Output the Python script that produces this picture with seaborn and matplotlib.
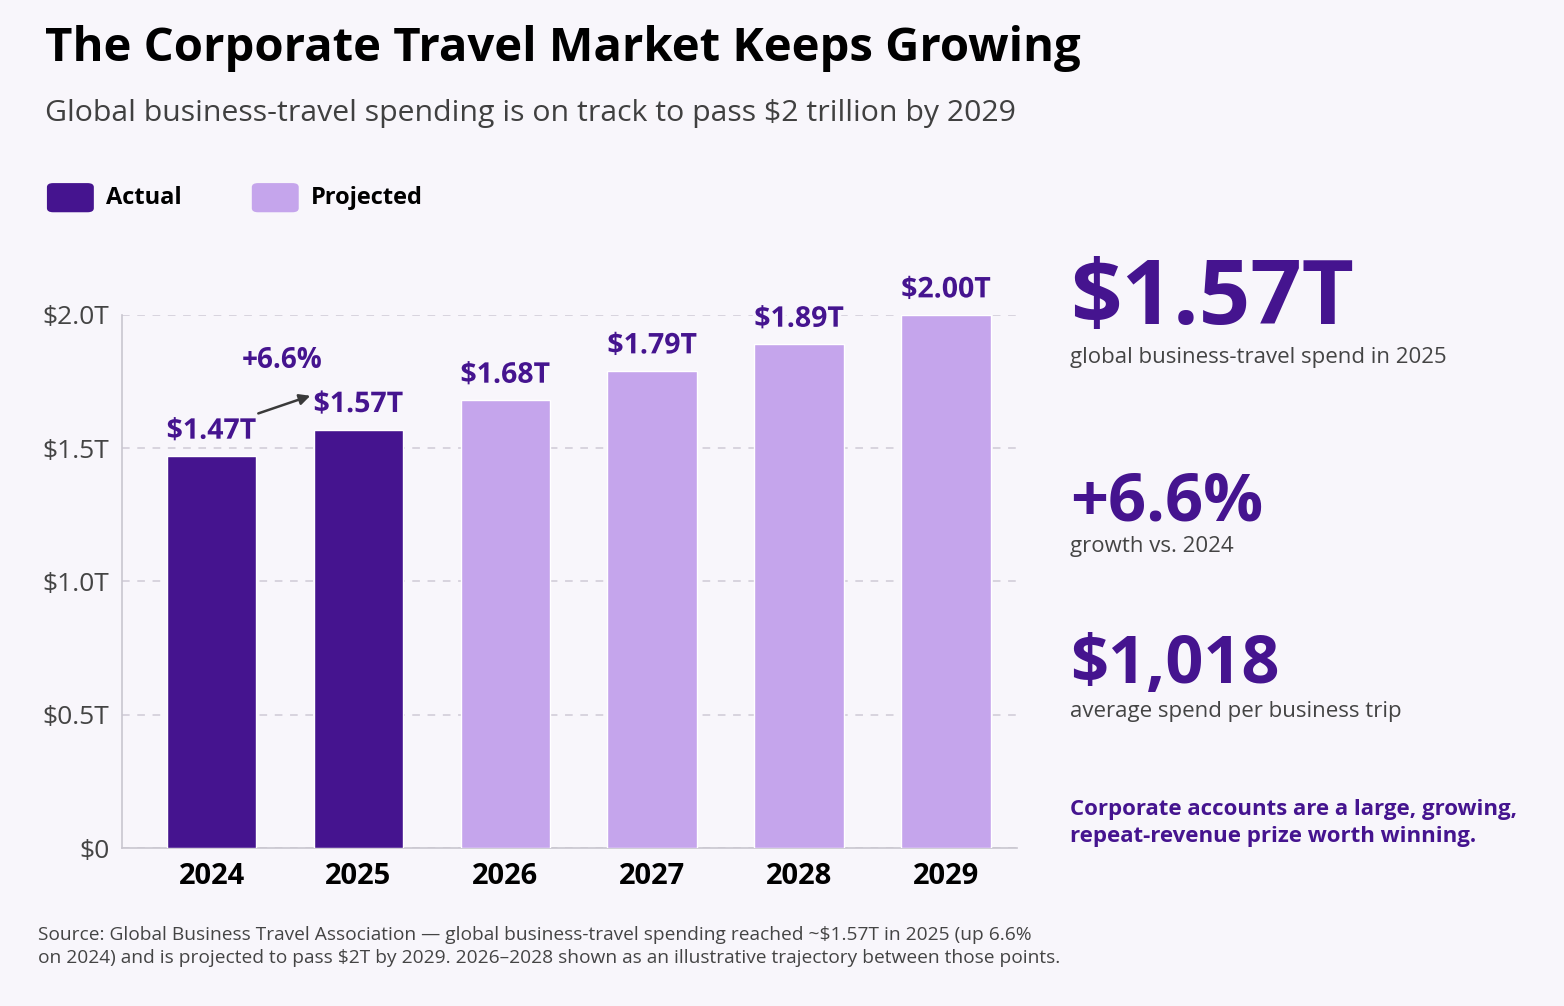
import seaborn as sns
import matplotlib.pyplot as plt
import matplotlib.patheffects as pe
from matplotlib import font_manager
from matplotlib.patches import FancyBboxPatch
import pandas as pd

# data
years = ["2024", "2025", "2026", "2027", "2028", "2029"]
spend_t = [1.47, 1.57, 1.68, 1.79, 1.89, 2.00]
status = ["Actual", "Actual", "Projected", "Projected", "Projected", "Projected"]
value_labels = ["$1.47T", "$1.57T", "$1.68T", "$1.79T", "$1.89T", "$2.00T"]
y_ticks = [0, 0.5, 1.0, 1.5, 2.0]
y_tick_labels = ["$0", "$0.5T", "$1.0T", "$1.5T", "$2.0T"]
kpi_values = ["$1.57T", "+6.6%", "$1,018"]
kpi_captions = ["global business-travel spend in 2025", "growth vs. 2024",
                "average spend per business trip"]

BG = "#f8f6fb"
DARK = "#45148f"
LIGHT = "#c5a5ec"
palette = {"Actual": DARK, "Projected": LIGHT}

df = pd.DataFrame({"year": years, "spend": spend_t, "status": status})

# pick a family that actually has a bold face installed
bold_families = {f.name for f in font_manager.fontManager.ttflist
                 if (f.weight in ("bold", 700) or str(f.weight) in ("700", "bold"))}
family = "DejaVu Sans"
for cand in ["Open Sans", "Noto Sans", "Lato", "Roboto", "Inter", "Liberation Sans"]:
    if cand in bold_families:
        family = cand
        break

sns.set_theme(style="white")
plt.rcParams["font.family"] = [family, "DejaVu Sans"]

fig = plt.figure(figsize=(15.64, 10.06), dpi=100, facecolor=BG)
ax = fig.add_axes([0.078, 0.157, 0.572, 0.530])
ax.set_facecolor(BG)

sns.barplot(data=df, x="year", y="spend", hue="status", palette=palette,
            dodge=False, width=0.61, saturation=1, legend=False, ax=ax, zorder=3)

ax.set_ylim(0, 2.0)
ax.set_xlim(-0.61, 5.48)
ax.set_yticks(y_ticks)
ax.set_yticklabels(y_tick_labels, fontsize=19, color="#444444")
ax.tick_params(axis="x", labelsize=21, pad=10, length=0, colors="black")
ax.tick_params(axis="y", pad=9, length=0)
for lab in ax.get_xticklabels():
    lab.set_fontweight("bold")
ax.set_xlabel("")
ax.set_ylabel("")
ax.yaxis.grid(True, linestyle=(0, (5, 5)), color="#cfcad6", linewidth=1.1, zorder=0)
for s in ["top", "right"]:
    ax.spines[s].set_visible(False)
ax.spines["left"].set_color("#c9c6cf")
ax.spines["bottom"].set_color("#c9c6cf")
ax.spines["left"].set_linewidth(1.2)
ax.spines["bottom"].set_linewidth(1.2)

halo = [pe.withStroke(linewidth=5, foreground=BG)]

# value labels above bars
for i, (v, txt) in enumerate(zip(spend_t, value_labels)):
    ax.annotate(txt, (i, v), xytext=(0, 18), textcoords="offset points",
                ha="center", va="center", fontsize=20.5, fontweight="bold",
                color=DARK, annotation_clip=False, path_effects=halo, zorder=5)

# growth arrow 2024 -> 2025
ax.annotate("", xy=(0.69, 1.70), xytext=(0.30, 1.627),
            arrowprops=dict(arrowstyle="-|>", color="#3a3a3a", lw=1.8,
                            mutation_scale=16), annotation_clip=False, zorder=6)
ax.text(0.48, 1.83, "+6.6%", ha="center", va="center", fontsize=20,
        fontweight="bold", color=DARK, zorder=6)

# title and subtitle
fig.text(0.029, 0.952, "The Corporate Travel Market Keeps Growing",
         fontsize=34, fontweight="bold", color="black", va="center")
fig.text(0.029, 0.887, "Global business-travel spending is on track to pass $2 trillion by 2029",
         fontsize=21.8, color="#404040", va="center")

# legend
for x0, lab in [(0.030, "Actual"), (0.161, "Projected")]:
    fig.patches.append(FancyBboxPatch((x0, 0.789), 0.030, 0.029,
                                      boxstyle="round,pad=0,rounding_size=0.004",
                                      transform=fig.transFigure, figure=fig,
                                      facecolor=palette[lab], edgecolor="none"))
    fig.text(x0 + 0.038, 0.803, lab, fontsize=17, fontweight="bold",
             color="black", va="center")

# KPI panel
kx = 0.684
fig.text(kx, 0.701, kpi_values[0], fontsize=65, fontweight="bold", color=DARK, va="center")
fig.text(kx, 0.645, kpi_captions[0], fontsize=16, color="#444444", va="center")
fig.text(kx, 0.500, kpi_values[1], fontsize=48, fontweight="bold", color=DARK, va="center")
fig.text(kx, 0.457, kpi_captions[1], fontsize=16, color="#444444", va="center")
fig.text(kx, 0.338, kpi_values[2], fontsize=48, fontweight="bold", color=DARK, va="center")
fig.text(kx, 0.293, kpi_captions[2], fontsize=16, color="#444444", va="center")
fig.text(kx, 0.182, "Corporate accounts are a large, growing,\nrepeat-revenue prize worth winning.",
         fontsize=16, fontweight="bold", color=DARK, va="center", linespacing=1.4)

# footnote
fig.text(0.024, 0.059,
         "Source: Global Business Travel Association \u2014 global business-travel spending reached ~$1.57T in 2025 (up 6.6%\n"
         "on 2024) and is projected to pass $2T by 2029. 2026\u20132028 shown as an illustrative trajectory between those points.",
         fontsize=13.8, color="#444444", va="center", linespacing=1.4)

fig.savefig("out.png", dpi=100, facecolor=BG)
